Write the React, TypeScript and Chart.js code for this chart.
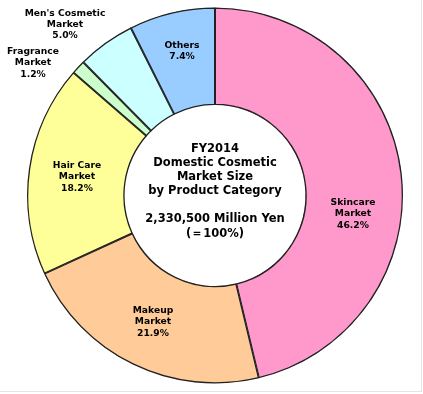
import React, { useEffect, useRef } from "react";
import { Chart, registerables } from "chart.js";

Chart.register(...registerables);

// ---- data ----
const categories = [
  "Skincare Market",
  "Makeup Market",
  "Hair Care Market",
  "Fragrance Market",
  "Men's Cosmetic Market",
  "Others",
];
const shares = [46.2, 21.9, 18.2, 1.2, 5.0, 7.4];
const labelNames = [
  ["Skincare", "Market"],
  ["Makeup", "Market"],
  ["Hair Care", "Market"],
  ["Fragrance", "Market"],
  ["Men's Cosmetic", "Market"],
  ["Others"],
];
const sliceColors = ["#FF99CC", "#FFCC99", "#FFFF99", "#CCFFCC", "#CCFFFF", "#99CCFF"];
const centerLines = [
  "FY2014",
  "Domestic Cosmetic",
  "Market Size",
  "by Product Category",
  "",
  "2,330,500 Million Yen",
  "(＝100%)",
];

// ---- layout (label anchor offsets from the chart centre, px) ----
const labelOffsets: [number, number][] = [
  [138, 18.5],
  [-62, 126.5],
  [-138, -18.5],
  [-182, -132.5],
  [-150, -171],
  [-33, -144.5],
];

const labelPlugin = {
  id: "labelPlugin",
  afterDatasetsDraw(chart: any) {
    const ctx = chart.ctx;
    const meta = chart.getDatasetMeta(0);
    const arc0 = meta.data[0];
    if (!arc0) return;
    const cx = arc0.x;
    const cy = arc0.y;
    ctx.save();
    ctx.fillStyle = "#000";
    ctx.textAlign = "center";
    ctx.textBaseline = "middle";

    // slice labels
    ctx.font = "bold 9.2px 'DejaVu Sans'";
    const lh = 11.3;
    shares.forEach((v, i) => {
      const lines = [...labelNames[i], v.toFixed(1) + "%"];
      const [dx, dy] = labelOffsets[i];
      const startY = cy + dy - ((lines.length - 1) * lh) / 2;
      lines.forEach((t, j) => ctx.fillText(t, cx + dx, startY + j * lh));
    });

    // centre text
    ctx.font = "bold 11.5px 'DejaVu Sans'";
    const clh = 14.1;
    const startY = cy - 46.5;
    centerLines.forEach((t, j) => {
      if (t) ctx.fillText(t, cx, startY + j * clh);
    });
    ctx.restore();
  },
};

export default function App() {
  const ref = useRef<HTMLCanvasElement | null>(null);
  useEffect(() => {
    if (!ref.current) return;
    const chart = new Chart(ref.current, {
      type: "doughnut",
      data: {
        labels: categories,
        datasets: [
          {
            data: shares,
            backgroundColor: sliceColors,
            borderColor: "#222",
            borderWidth: 1,
            borderAlign: "inner" as any,
          },
        ],
      },
      options: {
        responsive: false,
        animation: false,
        radius: 188,
        cutout: 94,
        rotation: 0,
        layout: { padding: { left: 7, right: 0, top: 0, bottom: 3 } },
        plugins: {
          legend: { display: false },
          tooltip: { enabled: false },
          title: { display: false },
        },
      } as any,
      plugins: [labelPlugin],
    });
    return () => chart.destroy();
  }, []);

  return (
    <div
      style={{
        position: "absolute",
        left: 0,
        top: 0,
        width: 423,
        height: 394,
        background: "#fff",
      }}
    >
      <canvas ref={ref} width={423} height={394} style={{ display: "block" }} />
      <div
        style={{
          position: "absolute",
          left: 0,
          top: 0,
          width: 421,
          height: 391,
          borderRight: "1px solid #e4e4e4",
          borderBottom: "1px solid #e4e4e4",
          pointerEvents: "none",
        }}
      />
    </div>
  );
}
